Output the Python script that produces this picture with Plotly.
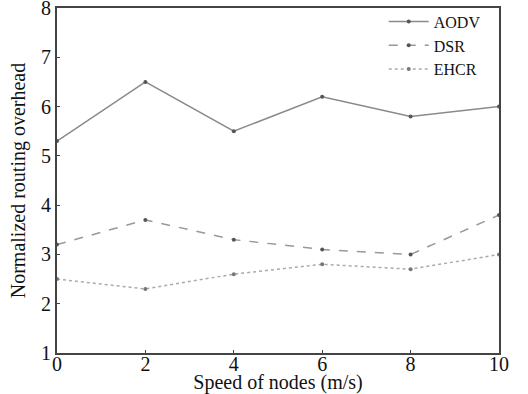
import plotly.graph_objects as go

speed = [0, 2, 4, 6, 8, 10]
aodv = [5.3, 6.5, 5.5, 6.2, 5.8, 6.0]
dsr = [3.2, 3.7, 3.3, 3.1, 3.0, 3.8]
ehcr = [2.5, 2.3, 2.6, 2.8, 2.7, 3.0]
yticks = [1, 2, 3, 4, 5, 6, 7, 8]

fig = go.Figure()
fig.add_trace(go.Scatter(x=speed, y=aodv, name="AODV", mode="lines+markers",
                         line=dict(color="#8a8a8a", width=1.5, dash="solid"),
                         marker=dict(size=4, color="#555555")))
fig.add_trace(go.Scatter(x=speed, y=dsr, name="DSR", mode="lines+markers",
                         line=dict(color="#999999", width=1.5, dash="dash"),
                         marker=dict(size=4, color="#555555")))
fig.add_trace(go.Scatter(x=speed, y=ehcr, name="EHCR", mode="lines+markers",
                         line=dict(color="#aaaaaa", width=1.5, dash="dot"),
                         marker=dict(size=4, color="#777777")))

font = "Liberation Serif, Times New Roman, serif"
fig.update_layout(
    width=528, height=394,
    margin=dict(l=57, r=29, t=8, b=41, autoexpand=False),
    paper_bgcolor="white", plot_bgcolor="white",
    font=dict(family=font, color="#111111", size=17),
    showlegend=True,
    legend=dict(x=0.97, y=1.01, xanchor="right", yanchor="top",
                bgcolor="rgba(0,0,0,0)", font=dict(size=16, family=font),
                tracegroupgap=0, itemwidth=40),
    xaxis=dict(range=[0, 10], tickvals=speed, showgrid=False, zeroline=False,
               showline=True, linecolor="#444444", linewidth=2, mirror=True,
               ticks="inside", ticklen=3, tickcolor="#444444",
               tickfont=dict(size=20, family=font), automargin=False,
               ticklabelstandoff=-8, ticklabeloverflow="allow",
               title=dict(text="Speed of nodes (m/s)", font=dict(size=20, family=font), standoff=2)),
    yaxis=dict(range=[1, 8], tickmode="array", tickvals=yticks,
               showgrid=False, zeroline=False,
               showline=True, linecolor="#444444", linewidth=2, mirror=True,
               ticks="inside", ticklen=3, tickcolor="#444444",
               tickfont=dict(size=20, family=font), automargin=False,
               ticklabeloverflow="allow",
               title=dict(text="Normalized routing overhead", font=dict(size=20, family=font), standoff=10)),
)

fig.write_html("out.html", config={"displayModeBar": False},
               post_script="document.body.style.margin='0';")
